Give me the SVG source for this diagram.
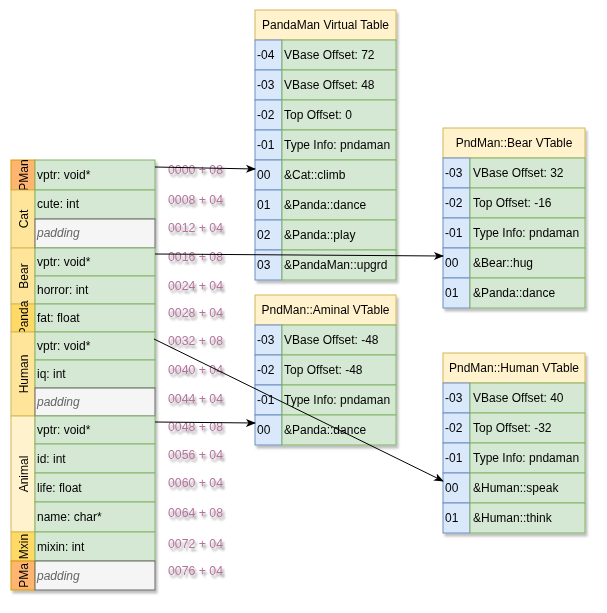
<svg xmlns="http://www.w3.org/2000/svg" width="607" height="613" viewBox="0 0 607 613">
<defs>
<style>
text{font-family:"Liberation Sans",Arial,sans-serif;font-size:12px;fill:#000}
.lbl{fill:#ffe599;stroke:#d6b656}
.lbl2{fill:#ffd966;stroke:#d6b656}
.lbl3{fill:#fff2cc;stroke:#d6b656}
.org{fill:#ffb570;stroke:#d79b00}
.fld{fill:#d5e8d4;stroke:#82b366}
.pad{fill:#f5f5f5;stroke:#666666}
.padt{font-style:italic;fill:#666666}
.idx{fill:#dae8fc;stroke:#6c8ebf}
.hdr{fill:#fff2cc;stroke:#d6b656}
.mid{text-anchor:middle}
.off{fill:#b5739d;font-size:12.3px}
.conn{stroke:#000;stroke-width:1;fill:none;marker-end:url(#arr)}
</style>
<filter id="sh" x="-10%" y="-10%" width="130%" height="130%">
<feDropShadow dx="2" dy="3" stdDeviation="1" flood-color="#000" flood-opacity="0.25"/>
</filter>
<filter id="tsh" x="-10%" y="-30%" width="130%" height="180%">
<feDropShadow dx="2" dy="3" stdDeviation="1.2" flood-color="#000" flood-opacity="0.4"/>
</filter>
<marker id="arr" viewBox="0 0 10 10" refX="9" refY="5" markerWidth="10" markerHeight="10" markerUnits="userSpaceOnUse" orient="auto">
<path d="M0,1 L10,5 L0,9 L2.5,5 Z" fill="#000"/>
</marker>
</defs>
<rect width="607" height="613" fill="#fff"/>

<g id="object-layout" filter="url(#sh)">
<g id="lbl-pman"><rect class="org" x="11" y="160" width="24" height="30"/><text class="mid" transform="translate(28,175) rotate(-90)">PMan</text></g>
<g id="lbl-cat"><rect class="lbl" x="11" y="190" width="24" height="58"/><text class="mid" transform="translate(28,219) rotate(-90)">Cat</text></g>
<g id="lbl-bear"><rect class="lbl" x="11" y="248" width="24" height="56"/><text class="mid" transform="translate(28,276) rotate(-90)">Bear</text></g>
<g id="lbl-panda"><rect class="lbl2" x="11" y="304" width="24" height="28"/><text class="mid" transform="translate(28,318) rotate(-90)">Panda</text></g>
<g id="lbl-human"><rect class="lbl" x="11" y="332" width="24" height="84"/><text class="mid" transform="translate(28,374) rotate(-90)">Human</text></g>
<g id="lbl-animal"><rect class="lbl3" x="11" y="416" width="24" height="116"/><text class="mid" transform="translate(28,474) rotate(-90)">Animal</text></g>
<g id="lbl-mxin"><rect class="lbl2" x="11" y="532" width="24" height="29"/><text class="mid" transform="translate(28,546.5) rotate(-90)">Mxin</text></g>
<g id="lbl-pma"><rect class="org" x="11" y="561" width="24" height="29"/><text class="mid" transform="translate(28,575.5) rotate(-90)">PMa</text></g>

<g id="f0"><rect class="fld" x="35" y="160" width="120" height="30"/><text x="37" y="179">vptr: void*</text></g>
<g id="f1"><rect class="fld" x="35" y="190" width="120" height="29"/><text x="37" y="208">cute: int</text></g>
<g id="f2"><rect class="pad" x="35" y="219" width="120" height="29"/><text class="padt" x="37" y="237">padding</text></g>
<g id="f3"><rect class="fld" x="35" y="248" width="120" height="28"/><text x="37" y="266">vptr: void*</text></g>
<g id="f4"><rect class="fld" x="35" y="276" width="120" height="28"/><text x="37" y="294">horror: int</text></g>
<g id="f5"><rect class="fld" x="35" y="304" width="120" height="28"/><text x="37" y="322">fat: float</text></g>
<g id="f6"><rect class="fld" x="35" y="332" width="120" height="28"/><text x="37" y="350">vptr: void*</text></g>
<g id="f7"><rect class="fld" x="35" y="360" width="120" height="28"/><text x="37" y="378">iq: int</text></g>
<g id="f8"><rect class="pad" x="35" y="388" width="120" height="28"/><text class="padt" x="37" y="406">padding</text></g>
<g id="f9"><rect class="fld" x="35" y="416" width="120" height="28"/><text x="37" y="434">vptr: void*</text></g>
<g id="f10"><rect class="fld" x="35" y="444" width="120" height="29"/><text x="37" y="462.5">id: int</text></g>
<g id="f11"><rect class="fld" x="35" y="473" width="120" height="29"/><text x="37" y="491.5">life: float</text></g>
<g id="f12"><rect class="fld" x="35" y="502" width="120" height="30"/><text x="37" y="521">name: char*</text></g>
<g id="f13"><rect class="fld" x="35" y="532" width="120" height="29"/><text x="37" y="550.5">mixin: int</text></g>
<g id="f14"><rect class="pad" x="35" y="561" width="120" height="29"/><text class="padt" x="37" y="579.5">padding</text></g>
</g>

<g id="offsets" filter="url(#tsh)">
<text class="off" x="168" y="174">0000 + 08</text>
<text class="off" x="168" y="204">0008 + 04</text>
<text class="off" x="168" y="232">0012 + 04</text>
<text class="off" x="168" y="261">0016 + 08</text>
<text class="off" x="168" y="290">0024 + 04</text>
<text class="off" x="168" y="317">0028 + 04</text>
<text class="off" x="168" y="345">0032 + 08</text>
<text class="off" x="168" y="374">0040 + 04</text>
<text class="off" x="168" y="403">0044 + 04</text>
<text class="off" x="168" y="431">0048 + 08</text>
<text class="off" x="168" y="459">0056 + 04</text>
<text class="off" x="168" y="487">0060 + 04</text>
<text class="off" x="168" y="517">0064 + 08</text>
<text class="off" x="168" y="548">0072 + 04</text>
<text class="off" x="168" y="575">0076 + 04</text>
</g>

<g id="pandaman-vtable" filter="url(#sh)">
<rect class="hdr" x="255" y="10" width="141" height="30"/><text class="mid" x="325.5" y="29">PandaMan Virtual Table</text>
<rect class="idx" x="255" y="40" width="27" height="30"/><rect class="fld" x="282" y="40" width="114" height="30"/><text x="257" y="59">-04</text><text x="284" y="59">VBase Offset: 72</text>
<rect class="idx" x="255" y="70" width="27" height="30"/><rect class="fld" x="282" y="70" width="114" height="30"/><text x="257" y="89">-03</text><text x="284" y="89">VBase Offset: 48</text>
<rect class="idx" x="255" y="100" width="27" height="30"/><rect class="fld" x="282" y="100" width="114" height="30"/><text x="257" y="119">-02</text><text x="284" y="119">Top Offset: 0</text>
<rect class="idx" x="255" y="130" width="27" height="30"/><rect class="fld" x="282" y="130" width="114" height="30"/><text x="257" y="149">-01</text><text x="284" y="149">Type Info: pndaman</text>
<rect class="idx" x="255" y="160" width="27" height="30"/><rect class="fld" x="282" y="160" width="114" height="30"/><text x="257" y="179">00</text><text x="284" y="179">&amp;Cat::climb</text>
<rect class="idx" x="255" y="190" width="27" height="30"/><rect class="fld" x="282" y="190" width="114" height="30"/><text x="257" y="209">01</text><text x="284" y="209">&amp;Panda::dance</text>
<rect class="idx" x="255" y="220" width="27" height="30"/><rect class="fld" x="282" y="220" width="114" height="30"/><text x="257" y="239">02</text><text x="284" y="239">&amp;Panda::play</text>
<rect class="idx" x="255" y="250" width="27" height="30"/><rect class="fld" x="282" y="250" width="114" height="30"/><text x="257" y="269">03</text><text x="284" y="269">&amp;PandaMan::upgrd</text>
</g>

<g id="bear-vtable" filter="url(#sh)">
<rect class="hdr" x="443" y="128" width="142" height="30"/><text class="mid" x="514" y="147">PndMan::Bear VTable</text>
<rect class="idx" x="443" y="158" width="27" height="30"/><rect class="fld" x="470" y="158" width="115" height="30"/><text x="445" y="177">-03</text><text x="473" y="177">VBase Offset: 32</text>
<rect class="idx" x="443" y="188" width="27" height="30"/><rect class="fld" x="470" y="188" width="115" height="30"/><text x="445" y="207">-02</text><text x="473" y="207">Top Offset: -16</text>
<rect class="idx" x="443" y="218" width="27" height="30"/><rect class="fld" x="470" y="218" width="115" height="30"/><text x="445" y="237">-01</text><text x="473" y="237">Type Info: pndaman</text>
<rect class="idx" x="443" y="248" width="27" height="30"/><rect class="fld" x="470" y="248" width="115" height="30"/><text x="445" y="267">00</text><text x="473" y="267">&amp;Bear::hug</text>
<rect class="idx" x="443" y="278" width="27" height="30"/><rect class="fld" x="470" y="278" width="115" height="30"/><text x="445" y="297">01</text><text x="473" y="297">&amp;Panda::dance</text>
</g>

<g id="aminal-vtable" filter="url(#sh)">
<rect class="hdr" x="255" y="295" width="141" height="30"/><text class="mid" x="325.5" y="314">PndMan::Aminal VTable</text>
<rect class="idx" x="255" y="325" width="27" height="30"/><rect class="fld" x="282" y="325" width="114" height="30"/><text x="257" y="344">-03</text><text x="284" y="344">VBase Offset: -48</text>
<rect class="idx" x="255" y="355" width="27" height="30"/><rect class="fld" x="282" y="355" width="114" height="30"/><text x="257" y="374">-02</text><text x="284" y="374">Top Offset: -48</text>
<rect class="idx" x="255" y="385" width="27" height="30"/><rect class="fld" x="282" y="385" width="114" height="30"/><text x="257" y="404">-01</text><text x="284" y="404">Type Info: pndaman</text>
<rect class="idx" x="255" y="415" width="27" height="30"/><rect class="fld" x="282" y="415" width="114" height="30"/><text x="257" y="434">00</text><text x="284" y="434">&amp;Panda::dance</text>
</g>

<g id="human-vtable" filter="url(#sh)">
<rect class="hdr" x="443" y="353" width="142" height="30"/><text class="mid" x="514" y="372">PndMan::Human VTable</text>
<rect class="idx" x="443" y="383" width="27" height="30"/><rect class="fld" x="470" y="383" width="115" height="30"/><text x="445" y="402">-03</text><text x="473" y="402">VBase Offset: 40</text>
<rect class="idx" x="443" y="413" width="27" height="30"/><rect class="fld" x="470" y="413" width="115" height="30"/><text x="445" y="432">-02</text><text x="473" y="432">Top Offset: -32</text>
<rect class="idx" x="443" y="443" width="27" height="30"/><rect class="fld" x="470" y="443" width="115" height="30"/><text x="445" y="462">-01</text><text x="473" y="462">Type Info: pndaman</text>
<rect class="idx" x="443" y="473" width="27" height="30"/><rect class="fld" x="470" y="473" width="115" height="30"/><text x="445" y="492">00</text><text x="473" y="492">&amp;Human::speak</text>
<rect class="idx" x="443" y="503" width="27" height="30"/><rect class="fld" x="470" y="503" width="115" height="30"/><text x="445" y="522">01</text><text x="473" y="522">&amp;Human::think</text>
</g>

<g id="connectors">
<path class="conn" d="M155,167 L255,169"/>
<path class="conn" d="M155,254 L443,256"/>
<path class="conn" d="M154,339 L443,481"/>
<path class="conn" d="M155,422 L255,423"/>
</g>
</svg>
